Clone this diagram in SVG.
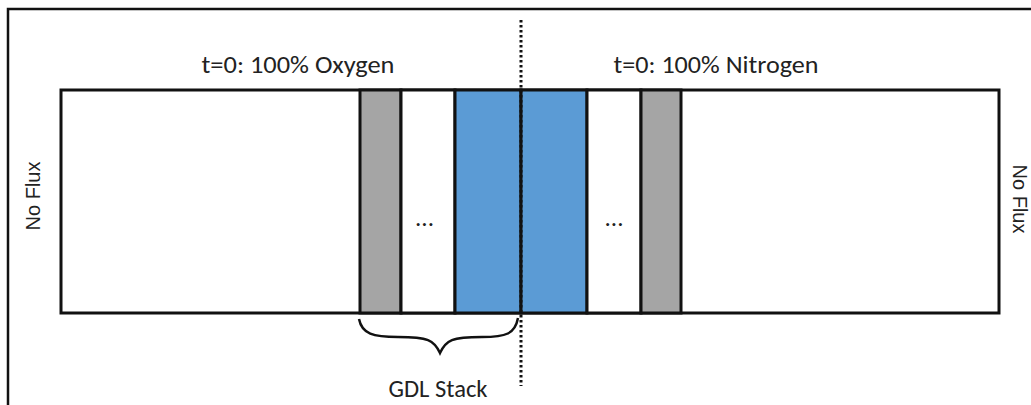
<svg xmlns="http://www.w3.org/2000/svg" width="1031" height="405" viewBox="0 0 1031 405">
<style>
.lbl{font-family:Carlito,"Open Sans","Liberation Sans",sans-serif;font-size:24px;fill:#222}
.side{font-family:"Liberation Sans",Arial,sans-serif;font-size:20px;fill:#222}
.box{stroke:#111;stroke-width:3}
.gray{fill:#A5A5A5}
.blue{fill:#5B9BD5}
.white{fill:#fff}
</style>
<rect x="0" y="0" width="1031" height="405" fill="#fff"/>
<path d="M8,405 V9 H1031" fill="none" stroke="#111" stroke-width="2.5"/>
<g id="domain">
<rect class="box white" x="61" y="90" width="938" height="223"/>
</g>
<g id="gdl1"><rect class="box gray" x="360" y="90" width="41" height="223"/></g>
<g id="gap1"><rect class="box white" x="401" y="90" width="54" height="223"/><text class="lbl" x="424.5" y="226" text-anchor="middle" textLength="19" lengthAdjust="spacingAndGlyphs">...</text></g>
<g id="gdl2"><rect class="box blue" x="455" y="90" width="66" height="223"/></g>
<g id="gdl3"><rect class="box blue" x="521" y="90" width="66" height="223"/></g>
<g id="gap2"><rect class="box white" x="587" y="90" width="54" height="223"/><text class="lbl" x="614" y="226" text-anchor="middle" textLength="19" lengthAdjust="spacingAndGlyphs">...</text></g>
<g id="gdl4"><rect class="box gray" x="641" y="90" width="40" height="223"/></g>
<g id="labels">
<text class="lbl" x="298" y="73" text-anchor="middle" textLength="193" lengthAdjust="spacingAndGlyphs">t=0: 100% Oxygen</text>
<text class="lbl" x="716" y="73" text-anchor="middle" textLength="205" lengthAdjust="spacingAndGlyphs">t=0: 100% Nitrogen</text>
<text class="side" transform="translate(40,196) rotate(-90)" text-anchor="middle">No Flux</text>
<text class="side" transform="translate(1013,199) rotate(90)" text-anchor="middle">No Flux</text>
<text class="lbl" x="438" y="397" text-anchor="middle" textLength="99" lengthAdjust="spacingAndGlyphs">GDL Stack</text>
</g>
<g id="connectors">
<line x1="521" y1="20" x2="521" y2="386" stroke="#111" stroke-width="3" stroke-dasharray="2.5,2.5"/>
<path d="M359,319 C362,334 373,337 398,337 C428,337 434,340 440,353 C446,340 452,337 482,337 C506,337 515,334 518,318" fill="none" stroke="#111" stroke-width="2.5"/>
</g>
</svg>
